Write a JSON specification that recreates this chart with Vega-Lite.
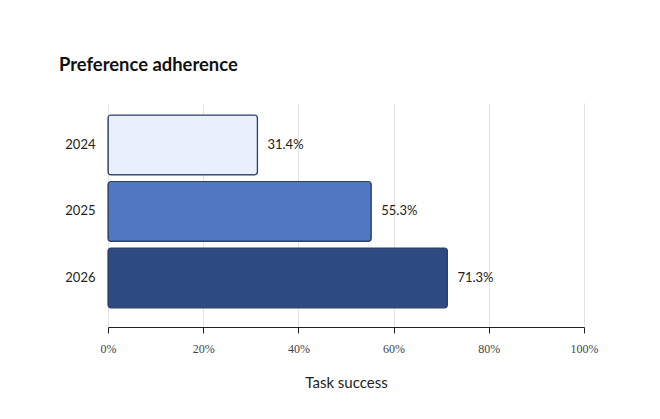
{
  "$schema": "https://vega.github.io/schema/vega-lite/v6.json",
  "width": 476,
  "height": 224,
  "autosize": {"type": "none"},
  "padding": {"left": 108, "top": 103, "right": 76, "bottom": 92},
  "background": "white",
  "title": {
    "text": "Preference adherence",
    "anchor": "start",
    "frame": "group",
    "dx": -49,
    "offset": 29,
    "font": "Lato",
    "fontSize": 18.4,
    "fontWeight": "bold",
    "color": "#111111"
  },
  "config": {
    "view": {"stroke": null},
    "font": "Lato"
  },
  "data": {
    "values": [
      {"year": "2024", "score": 0.314},
      {"year": "2025", "score": 0.553},
      {"year": "2026", "score": 0.713}
    ]
  },
  "encoding": {
    "y": {
      "field": "year",
      "type": "nominal",
      "sort": null,
      "scale": {"paddingInner": 0.1, "paddingOuter": 0.234, "align": 0.385},
      "axis": {
        "title": null,
        "domain": false,
        "ticks": false,
        "labelFont": "Lato",
        "labelFontSize": 13,
        "labelColor": "#222222",
        "labelPadding": 13
      }
    },
    "x": {
      "field": "score",
      "type": "quantitative",
      "scale": {"domain": [0, 1]},
      "axis": {
        "title": "Task success",
        "format": ".0%",
        "values": [0, 0.2, 0.4, 0.6, 0.8, 1],
        "labelFlush": false,
        "domainColor": "#222222",
        "tickColor": "#222222",
        "tickSize": 6,
        "gridColor": "#e3e3e3",
        "labelFont": "Liberation Serif",
        "labelFontSize": 12,
        "labelColor": "#444444",
        "labelPadding": 10,
        "titleFont": "Lato",
        "titleFontSize": 15,
        "titleFontWeight": "normal",
        "titleColor": "#222222",
        "titlePadding": 21
      }
    }
  },
  "layer": [
    {
      "mark": {"type": "bar", "cornerRadius": 3, "stroke": "#2b3f6b", "strokeWidth": 1.2},
      "encoding": {
        "color": {
          "field": "year",
          "type": "nominal",
          "scale": {"domain": ["2024", "2025", "2026"], "range": ["#e8f0fc", "#5078c0", "#2e4a82"]},
          "legend": null
        }
      }
    },
    {
      "mark": {"type": "text", "align": "left", "dx": 10, "font": "Lato", "fontSize": 13, "color": "#222222"},
      "encoding": {
        "text": {"field": "score", "type": "quantitative", "format": ".1%"}
      }
    }
  ]
}
